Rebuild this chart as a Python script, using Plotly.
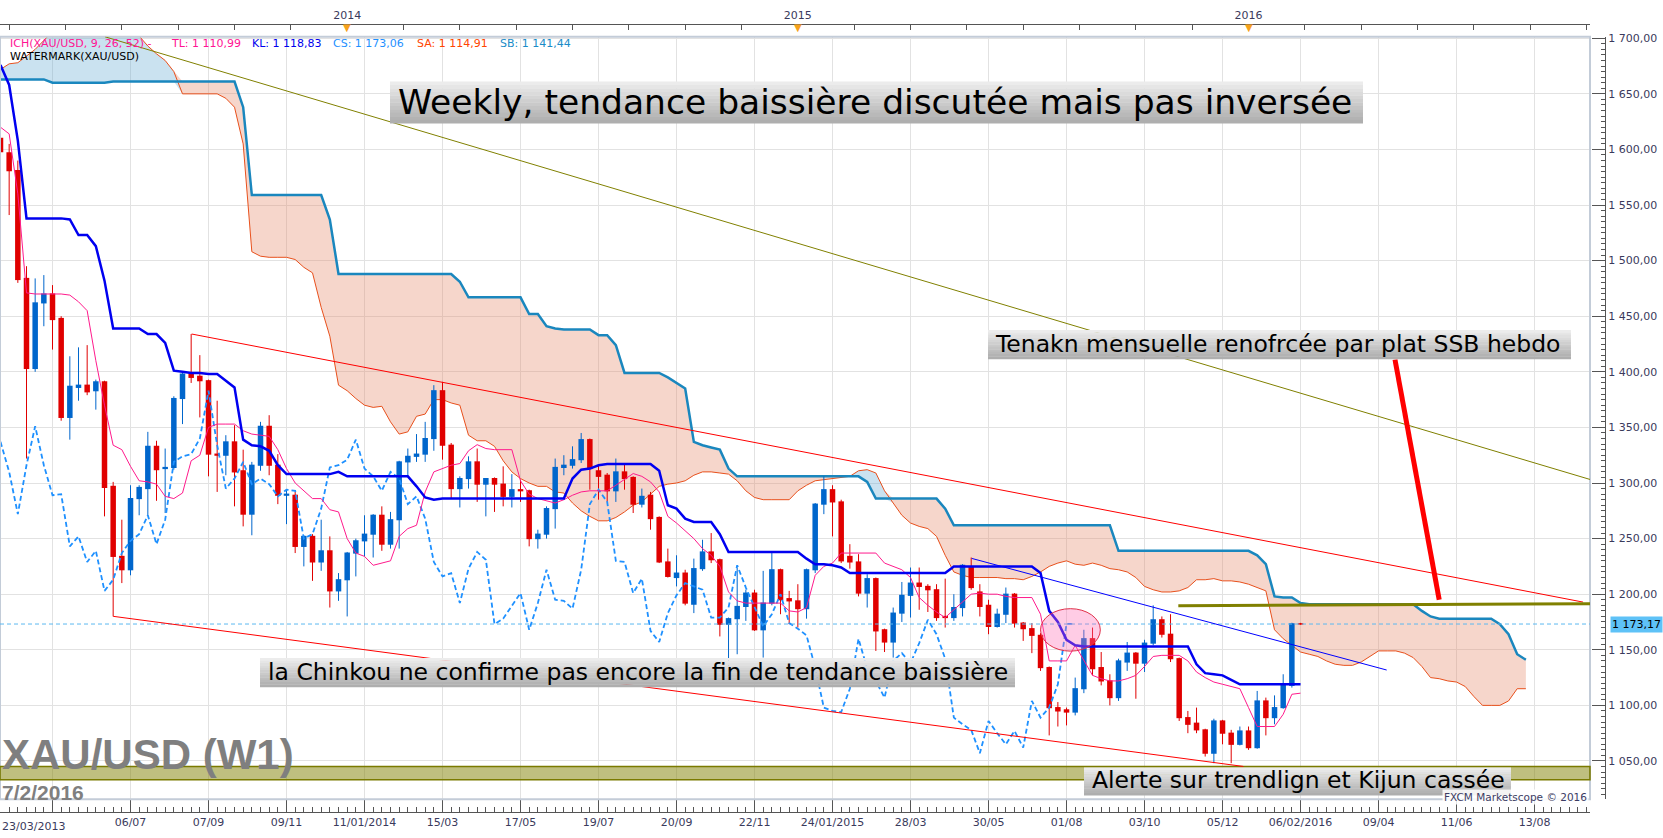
import numpy as np
import pandas as pd
import plotly.graph_objects as go

W, H = 1663, 838

# ---- weekly XAU/USD candles (label = Saturday before the trading week) ----
first_week = "2013-03-23"
opens = [1610, 1597, 1581, 1484, 1403, 1462, 1470, 1448, 1359, 1386, 1388, 1383, 1391, 1297, 1234, 1222,
         1286, 1295, 1333, 1313, 1314, 1376, 1398, 1396, 1392, 1326, 1325, 1337, 1311, 1272, 1316, 1351,
         1316, 1289, 1289, 1243, 1252, 1229, 1239, 1203, 1213, 1237, 1248, 1254, 1271, 1245, 1267, 1319,
         1324, 1326, 1340, 1383, 1334, 1295, 1304, 1319, 1299, 1304, 1299, 1288, 1294, 1293, 1250, 1254,
         1277, 1314, 1316, 1321, 1339, 1311, 1307, 1293, 1310, 1305, 1281, 1289, 1269, 1229, 1215, 1219,
         1191, 1223, 1238, 1231, 1173, 1178, 1189, 1201, 1168, 1192, 1222, 1196, 1194, 1187, 1222, 1281,
         1294, 1283, 1234, 1229, 1201, 1214, 1168, 1157, 1183, 1199, 1210, 1207, 1204, 1180, 1179, 1188,
         1224, 1202, 1190, 1171, 1182, 1200, 1174, 1169, 1163, 1134, 1098, 1096, 1094, 1115, 1160, 1134,
         1122, 1107, 1139, 1147, 1138, 1156, 1177, 1164, 1142, 1089, 1084, 1078, 1057, 1086, 1075, 1065,
         1077, 1062, 1104, 1089, 1098, 1118, 1173.4]
highs = [1616, 1605, 1590, 1495, 1484, 1487, 1478, 1450, 1414, 1422, 1424, 1393, 1392, 1301, 1267, 1298,
         1298, 1346, 1338, 1331, 1378, 1400, 1434, 1415, 1393, 1374, 1343, 1352, 1330, 1319, 1355, 1361,
         1326, 1294, 1292, 1253, 1254, 1267, 1252, 1219, 1238, 1250, 1271, 1272, 1279, 1274, 1320, 1331,
         1344, 1355, 1388, 1391, 1336, 1306, 1324, 1331, 1304, 1305, 1315, 1308, 1303, 1294, 1258, 1279,
         1322, 1325, 1333, 1345, 1340, 1317, 1309, 1322, 1318, 1306, 1295, 1292, 1270, 1241, 1235, 1222,
         1232, 1249, 1255, 1232, 1179, 1224, 1204, 1204, 1221, 1238, 1223, 1203, 1209, 1223, 1282, 1306,
         1298, 1285, 1245, 1236, 1218, 1215, 1169, 1188, 1211, 1224, 1224, 1209, 1209, 1214, 1200, 1227,
         1233, 1209, 1195, 1187, 1206, 1201, 1175, 1174, 1165, 1135, 1103, 1098, 1125, 1168, 1170, 1148,
         1128, 1142, 1157, 1148, 1159, 1190, 1180, 1182, 1143, 1095, 1098, 1079, 1088, 1087, 1078, 1081,
         1081, 1113, 1107, 1109, 1128, 1174.3, 1174.2]
lows = [1594, 1541, 1480, 1322, 1400, 1441, 1420, 1356, 1339, 1374, 1379, 1366, 1270, 1180, 1210, 1217,
        1271, 1271, 1284, 1273, 1312, 1353, 1390, 1359, 1306, 1292, 1307, 1279, 1261, 1253, 1311, 1307,
        1281, 1263, 1237, 1225, 1212, 1221, 1188, 1194, 1180, 1216, 1234, 1233, 1239, 1241, 1241, 1307,
        1319, 1319, 1329, 1321, 1286, 1278, 1295, 1283, 1270, 1274, 1279, 1278, 1283, 1243, 1241, 1250,
        1259, 1307, 1313, 1318, 1294, 1285, 1283, 1283, 1294, 1273, 1278, 1258, 1228, 1215, 1207, 1190,
        1183, 1221, 1228, 1162, 1131, 1146, 1176, 1167, 1143, 1190, 1182, 1173, 1170, 1178, 1219, 1272,
        1252, 1228, 1223, 1198, 1188, 1149, 1148, 1143, 1175, 1179, 1186, 1184, 1176, 1170, 1176, 1180,
        1204, 1180, 1164, 1170, 1174, 1170, 1158, 1147, 1131, 1073, 1081, 1082, 1091, 1111, 1127, 1118,
        1100, 1104, 1131, 1106, 1130, 1154, 1161, 1139, 1086, 1075, 1075, 1054, 1048, 1065, 1048, 1064,
        1060, 1061, 1073, 1083, 1097, 1116, 1172.6]
closes = [1598, 1581, 1483, 1403, 1462, 1470, 1447, 1359, 1387, 1388, 1382, 1391, 1296, 1234, 1222, 1286,
          1296, 1333, 1312, 1314, 1376, 1398, 1395, 1392, 1326, 1325, 1337, 1310, 1272, 1316, 1351, 1316,
          1289, 1290, 1243, 1252, 1229, 1239, 1203, 1213, 1237, 1248, 1254, 1271, 1245, 1267, 1319, 1324,
          1326, 1340, 1383, 1334, 1295, 1304, 1319, 1299, 1304, 1299, 1288, 1294, 1293, 1250, 1254, 1277,
          1314, 1316, 1321, 1339, 1313, 1306, 1293, 1310, 1304, 1281, 1288, 1268, 1229, 1216, 1219, 1192,
          1223, 1238, 1231, 1173, 1178, 1189, 1201, 1168, 1192, 1222, 1195, 1194, 1187, 1222, 1281, 1294,
          1283, 1230, 1229, 1201, 1214, 1167, 1157, 1183, 1199, 1210, 1207, 1204, 1179, 1179, 1188, 1226,
          1206, 1189, 1171, 1182, 1200, 1174, 1169, 1163, 1134, 1098, 1095, 1094, 1115, 1160, 1133, 1122,
          1107, 1140, 1147, 1138, 1156, 1177, 1164, 1142, 1089, 1083, 1078, 1057, 1086, 1075, 1065, 1077,
          1062, 1104, 1089, 1098, 1119, 1173.4, 1173.17]

# ---- Ichimoku (9, 26, 52) lines, one value per week ----
tenkan = [1620, 1614, 1560, 1471, 1470, 1470, 1470, 1470, 1469, 1463, 1455, 1410, 1370, 1334, 1330, 1315,
          1302, 1301, 1299, 1288, 1286, 1291, 1320, 1325, 1350, 1353, 1353, 1353, 1347, 1344, 1343, 1342,
          1330, 1313, 1300, 1293, 1286, 1286, 1276, 1274, 1250, 1237, 1234, 1226, 1228, 1230, 1252, 1259,
          1262, 1292, 1310, 1313, 1316, 1317.5, 1329, 1334.5, 1331, 1330, 1330, 1330, 1302, 1290, 1286, 1284,
          1282, 1285, 1289, 1292, 1293, 1293, 1293, 1298, 1303, 1308.5, 1306, 1301, 1292, 1270, 1264, 1257,
          1250, 1241, 1235, 1225, 1202, 1194, 1192, 1192, 1192, 1192, 1192, 1185, 1184, 1188, 1217, 1225,
          1228, 1237, 1237, 1237, 1237, 1237, 1228, 1225, 1222, 1215, 1197, 1190, 1184, 1179, 1186, 1193,
          1200, 1201, 1200, 1200, 1198, 1197, 1197, 1197, 1182, 1140, 1140, 1140, 1154, 1140, 1127, 1124,
          1122, 1122, 1124, 1127, 1135, 1144, 1145, 1145, 1145, 1140, 1130, 1125, 1121, 1119, 1117, 1115,
          1098, 1081, 1081, 1081, 1092, 1110, 1111]
kijun = [1676, 1658, 1608, 1538, 1538, 1538, 1538, 1538, 1537, 1523, 1523, 1513, 1482, 1439, 1439, 1439,
         1439, 1434, 1434, 1426, 1401, 1400, 1399, 1399, 1398, 1398, 1392, 1386, 1339, 1334, 1333, 1329,
         1316, 1308, 1308, 1308, 1308, 1308, 1308, 1310, 1306, 1306, 1306, 1306, 1306, 1306, 1306, 1306,
         1297, 1287, 1285, 1286, 1286, 1286, 1286, 1286, 1286, 1286, 1286, 1286, 1286, 1286, 1286, 1286,
         1286, 1286, 1304, 1312, 1313, 1316, 1317, 1317, 1317, 1317, 1317, 1317, 1311, 1280, 1277, 1268,
         1265, 1265, 1265, 1254, 1238, 1238, 1238, 1238, 1238, 1238, 1238, 1238, 1238, 1232, 1227, 1227,
         1226, 1224, 1219, 1219, 1219, 1219, 1219, 1219, 1219, 1219, 1219, 1219, 1219, 1219, 1225, 1225,
         1225, 1225, 1225, 1225, 1225, 1225, 1225, 1225, 1219, 1185, 1175, 1159, 1154, 1153, 1153, 1153,
         1153, 1153, 1153, 1153, 1153, 1153, 1153, 1153, 1153, 1153, 1137, 1129, 1128, 1127, 1123, 1119,
         1119, 1119, 1119, 1119, 1119, 1119, 1119]
# senkou spans run 26 weeks past the last candle
senkou_a = [1672, 1677, 1678, 1684, 1690, 1698, 1706, 1712, 1716, 1720, 1720, 1720, 1718, 1714, 1710, 1706,
            1702, 1693, 1686, 1680, 1670, 1650, 1650, 1650, 1650, 1650, 1646, 1638, 1605, 1508, 1504, 1503,
            1503, 1503, 1501, 1494, 1489, 1458, 1432, 1388, 1383, 1376, 1370, 1368, 1369, 1355, 1344, 1346,
            1360, 1362, 1375, 1375, 1372, 1370, 1343, 1338, 1338, 1333, 1320, 1310, 1304, 1300, 1297, 1297,
            1292, 1291, 1282, 1275, 1270, 1266, 1266, 1269, 1274, 1280, 1283, 1290, 1297, 1299, 1300, 1302,
            1307, 1310, 1310, 1309, 1308, 1302, 1293, 1287, 1285, 1285, 1285, 1285, 1293, 1298, 1302, 1303,
            1304, 1305, 1306, 1311, 1312, 1309, 1293, 1282, 1271, 1264, 1261, 1259, 1252, 1235, 1220, 1217,
            1215, 1215, 1215, 1215, 1214, 1214, 1213, 1216, 1220, 1225, 1228, 1230, 1227, 1226, 1228, 1226,
            1223, 1222, 1220, 1215, 1207, 1204, 1202, 1202, 1203, 1206, 1213, 1213, 1214, 1212, 1212, 1211,
            1209, 1206, 1203, 1168, 1160, 1154, 1148, 1146, 1144, 1140, 1137, 1136, 1136, 1139, 1144, 1149,
            1149, 1149, 1147, 1143, 1135, 1125, 1124, 1122, 1121, 1117, 1108, 1100, 1100, 1100, 1104, 1115,
            1115]
senkou_b = [1663, 1663, 1663, 1663, 1663, 1663, 1660, 1660, 1660, 1660, 1660, 1660, 1660, 1661, 1661, 1661,
            1661, 1661, 1661, 1661, 1661, 1661, 1661, 1661, 1661, 1661, 1661, 1661, 1638, 1559, 1559, 1559,
            1559, 1559, 1559, 1559, 1559, 1559, 1537, 1488, 1488, 1488, 1488, 1488, 1488, 1488, 1488, 1488,
            1488, 1488, 1488, 1488, 1488, 1481, 1467, 1467, 1467, 1467, 1467, 1467, 1467, 1452, 1452, 1441,
            1439, 1438, 1438, 1438, 1438, 1433, 1433, 1424, 1399, 1399, 1399, 1399, 1399, 1395, 1390, 1385,
            1337, 1334, 1332, 1330, 1313, 1306, 1306, 1306, 1306, 1306, 1306, 1306, 1306, 1306, 1306, 1306,
            1306, 1306, 1306, 1306, 1301, 1286, 1286, 1286, 1286, 1286, 1286, 1286, 1286, 1277, 1262, 1262,
            1262, 1262, 1262, 1262, 1262, 1262, 1262, 1262, 1262, 1262, 1262, 1262, 1262, 1262, 1262, 1262,
            1262, 1239, 1239, 1239, 1239, 1239, 1239, 1239, 1239, 1239, 1239, 1239, 1239, 1239, 1239, 1239,
            1239, 1235, 1227, 1198, 1197, 1197, 1192, 1191, 1191, 1191, 1191, 1191, 1191, 1191, 1191, 1191,
            1191, 1191, 1191, 1191, 1185, 1180, 1178, 1178, 1178, 1178, 1178, 1178, 1178, 1173, 1164, 1146,
            1141]
chikou_shift = 26
last_price = 1173.17

# ---- axis labels ----
bottom_tick_weeks = [6, 15, 24, 33, 42, 51, 60, 69, 78, 87, 96, 105, 114, 123, 132, 141, 150, 159, 168, 177]
bottom_tick_text = ["", "06/07", "07/09", "09/11", "11/01/2014", "15/03", "17/05", "19/07", "20/09",
                    "22/11", "24/01/2015", "28/03", "30/05", "01/08", "03/10", "05/12", "06/02/2016",
                    "09/04", "11/06", "13/08"]
first_label = "23/03/2013"
year_weeks = [40, 92, 144]
year_text = ["2014", "2015", "2016"]

legend_items = [("ICH(XAU/USD, 9, 26, 52) -", "#FF1493", 8), ("TL: 1 110,99", "#FF1493", 169),
                ("KL: 1 118,83", "#0000EE", 250), ("CS: 1 173,06", "#1E90FF", 331),
                ("SA: 1 114,91", "#FF4500", 415), ("SB: 1 141,44", "#1A8CC8", 498)]


def wk(i):
    return pd.Timestamp(first_week) + pd.Timedelta(days=7 * i)


def px_x(x):
    return x / W


def px_y(y):
    return 1 - y / H


n = len(closes)
dates = [wk(i) for i in range(len(senkou_a))]
cdates = dates[:n]
sa = np.array(senkou_a, float)
sb = np.array(senkou_b, float)

fig = go.Figure()

# cloud: salmon where SSB above SSA, light blue where SSA above SSB
fig.add_trace(go.Scatter(x=dates, y=sa, mode="lines", line=dict(width=0), hoverinfo="skip"))
fig.add_trace(go.Scatter(x=dates, y=np.maximum(sa, sb), mode="lines", line=dict(width=0),
                         fill="tonexty", fillcolor="rgba(230,140,110,0.36)", hoverinfo="skip"))
fig.add_trace(go.Scatter(x=dates, y=sa, mode="lines", line=dict(width=0), hoverinfo="skip"))
fig.add_trace(go.Scatter(x=dates, y=np.minimum(sa, sb), mode="lines", line=dict(width=0),
                         fill="tonexty", fillcolor="rgba(100,170,210,0.34)", hoverinfo="skip"))
fig.add_trace(go.Scatter(x=dates, y=sa, mode="lines", line=dict(color="#E8501C", width=1)))
fig.add_trace(go.Scatter(x=dates, y=sb, mode="lines", line=dict(color="#1A87BE", width=2.5)))

# candles (wick + body) drawn as line segments
for up, col in ((True, "#0066CC"), (False, "#E00000")):
    wx, wy, bx, by = [], [], [], []
    for i in range(n):
        if (closes[i] > opens[i]) != up:
            continue
        d = cdates[i]
        wx += [d, d, None]
        wy += [lows[i], highs[i], None]
        lo, hi = min(opens[i], closes[i]), max(opens[i], closes[i])
        bx += [d, d, None]
        by += [lo - 0.5, hi + 0.5, None]
    fig.add_trace(go.Scatter(x=wx, y=wy, mode="lines", line=dict(color=col, width=1), hoverinfo="skip"))
    fig.add_trace(go.Scatter(x=bx, y=by, mode="lines", line=dict(color=col, width=5.5), hoverinfo="skip"))

fig.add_trace(go.Scatter(x=cdates[:n - chikou_shift], y=closes[chikou_shift:], mode="lines",
                         line=dict(color="#1E90FF", width=1.8, dash="5px,3px")))
fig.add_trace(go.Scatter(x=cdates, y=tenkan, mode="lines", line=dict(color="#FF1A8C", width=1)))
fig.add_trace(go.Scatter(x=cdates, y=kijun, mode="lines", line=dict(color="#0000F0", width=2.5)))
# dummy trace so the top date axis is drawn
fig.add_trace(go.Scatter(x=[cdates[0]], y=[1500], xaxis="x2", mode="markers",
                         marker=dict(opacity=0), hoverinfo="skip"))

shapes = [
    dict(type="rect", xref="paper", yref="paper", x0=0, x1=px_x(1590), y0=px_y(799), y1=px_y(32),
         line=dict(color="#C3CCD8", width=2), layer="above"),
    dict(type="rect", xref="x domain", yref="y", x0=0, x1=1, y0=1033.2, y1=1045.1,
         fillcolor="rgba(128,128,0,0.5)", line=dict(color="#7A7A00", width=1.5)),
    dict(type="line", xref="x domain", yref="y", x0=0, x1=1, y0=last_price, y1=last_price,
         line=dict(color="#5CB8F0", width=1, dash="4px,3px")),
    dict(type="line", x0=wk(12.06), y0=1701.3, x1=wk(183.4), y1=1303.2, line=dict(color="#808000", width=1)),
    dict(type="line", x0=wk(22.06), y0=1434.0, x1=wk(182.6), y1=1192.9, line=dict(color="#FF0000", width=1)),
    dict(type="line", x0=wk(13.01), y0=1180.1, x1=wk(143.4), y1=1045.1, line=dict(color="#FF0000", width=1)),
    dict(type="line", x0=wk(112.06), y0=1232.2, x1=wk(159.94), y1=1131.8, line=dict(color="#0000FF", width=1)),
    dict(type="line", x0=wk(135.9), y0=1189.7, x1=wk(183.4), y1=1191.5, line=dict(color="#808000", width=3)),
    dict(type="line", x0=wk(160.9), y0=1411.0, x1=wk(166.0), y1=1195.0, line=dict(color="#FF0000", width=5)),
    dict(type="circle", x0=wk(120.0), x1=wk(126.9), y0=1148.8, y1=1187.0,
         fillcolor="rgba(255,110,180,0.35)", line=dict(color="#E0304A", width=1)),
]

# gray gradient boxes behind the comments
boxes = [(390, 1363, 77, 119), (988, 1571, 327, 356), (260, 1015, 657, 686), (1084, 1511, 767, 795)]
steps = 12
for x0, x1, y0, y1 in boxes:
    h = (y1 - y0) / steps
    for k in range(steps):
        g = int(236 - (236 - 174) * k / (steps - 1))
        shapes.append(dict(type="rect", xref="paper", yref="paper", x0=px_x(x0), x1=px_x(x1),
                           y0=px_y(y0 + (k + 1) * h + 0.3), y1=px_y(y0 + k * h),
                           fillcolor=f"rgb({g},{g},{g})", line=dict(width=0), layer="above"))

notes = [("Weekly, tendance baissière discutée mais pas inversée", 396, 98, 34.5),
         ("Tenakn mensuelle renofrcée par plat SSB hebdo", 993, 341.5, 23.5),
         ("la Chinkou ne confirme pas encore la fin de tendance baissière", 266, 671.5, 23.5),
         ("Alerte sur trendlign et Kijun cassée", 1090, 780, 23.5)]
annotations = []
for txt, x, y, s in notes:
    annotations.append(dict(text=txt, xref="paper", yref="paper", x=px_x(x), y=px_y(y), xanchor="left",
                            yanchor="middle", showarrow=False, font=dict(family="DejaVu Sans", size=s,
                                                                         color="black")))
for txt, col, x in legend_items:
    annotations.append(dict(text=txt, xref="paper", yref="paper", x=px_x(x), y=px_y(39), xanchor="left",
                            yanchor="middle", showarrow=False, font=dict(size=11, color=col)))
annotations += [
    dict(text="WATERMARK(XAU/USD)", xref="paper", yref="paper", x=px_x(8), y=px_y(52), xanchor="left",
         yanchor="middle", showarrow=False, font=dict(size=11, color="black")),
    dict(text="<b>XAU/USD (W1)</b>", xref="paper", yref="paper", x=0, y=px_y(780), xanchor="left",
         yanchor="bottom", showarrow=False, font=dict(family="Liberation Sans", size=42, color="#7F7F7F")),
    dict(text="<b>7/2/2016</b>", xref="paper", yref="paper", x=0, y=px_y(779), xanchor="left",
         yanchor="top", showarrow=False, font=dict(family="Liberation Sans", size=21, color="#7F7F7F")),
    dict(text="FXCM Marketscope © 2016", xref="paper", yref="paper", x=px_x(1589), y=px_y(797),
         xanchor="right", yanchor="middle", showarrow=False, bgcolor="rgba(255,255,255,0.85)",
         font=dict(size=10.5, color="#3C3C64")),
    dict(text=first_label, xref="paper", yref="paper", x=0, y=px_y(826), xanchor="left",
         yanchor="middle", showarrow=False, font=dict(size=11, color="#3A3A5C")),
    dict(text="1 173,17", xref="paper", yref="y", x=1.0, y=last_price, xanchor="right",
         yanchor="middle", showarrow=False, bgcolor="#5EC2F7", borderpad=1,
         font=dict(size=11, color="black")),
]
for wkn in year_weeks:
    annotations.append(dict(text="▼", xref="x", yref="paper", x=wk(wkn), y=px_y(23), xanchor="center",
                            yanchor="middle", showarrow=False, font=dict(size=10, color="#F7A21B")))

top_ticks = [1 + 6.5 * k for k in range(29)]
top_text = [year_text[year_weeks.index(t)] if t in year_weeks else "" for t in top_ticks]

axis_col = "#555555"
fig.update_layout(
    width=W, height=H, margin=dict(l=0, r=0, t=0, b=0),
    paper_bgcolor="white", plot_bgcolor="white", showlegend=False, separators=", ",
    font=dict(family="DejaVu Sans", size=11, color="#3A3A5C"),
    shapes=shapes, annotations=annotations,
    xaxis=dict(domain=[0, px_x(1590)], range=[wk(-0.058), wk(183.4)], anchor="free",
               position=px_y(812), tickmode="array", tickvals=[wk(t) for t in bottom_tick_weeks],
               ticktext=bottom_tick_text, ticks="inside", ticklen=12, tickcolor=axis_col,
               showline=True, linecolor=axis_col, showgrid=True, gridcolor="#E2E2E2", zeroline=False,
               minor=dict(tickmode="linear", tick0=wk(0), dtick=7 * 86400000, ticks="inside",
                          ticklen=5, tickcolor=axis_col, showgrid=False)),
    xaxis2=dict(overlaying="x", matches="x", side="top", anchor="free", position=px_y(19),
                tickmode="array", tickvals=[wk(t) for t in top_ticks], ticktext=top_text,
                ticks="inside", ticklen=5, tickcolor=axis_col, showline=True, linecolor=axis_col,
                showgrid=False, zeroline=False),
    yaxis=dict(domain=[px_y(799), px_y(32)], range=[1015.6, 1701.3], anchor="free",
               position=px_x(1605), side="right", tick0=0, dtick=50, tickformat=",.2f",
               ticks="inside", ticklen=13, tickcolor=axis_col, showline=True, linecolor=axis_col,
               showgrid=True, gridcolor="#E2E2E2", zeroline=False,
               minor=dict(dtick=5, ticks="inside", ticklen=4, tickcolor=axis_col, showgrid=False)),
)

# the page's default body margin would push the figure 8px right/down
fig.write_html("out.html", config={"displayModeBar": False},
               post_script="document.body.style.margin='0';document.body.style.overflow='hidden';")
